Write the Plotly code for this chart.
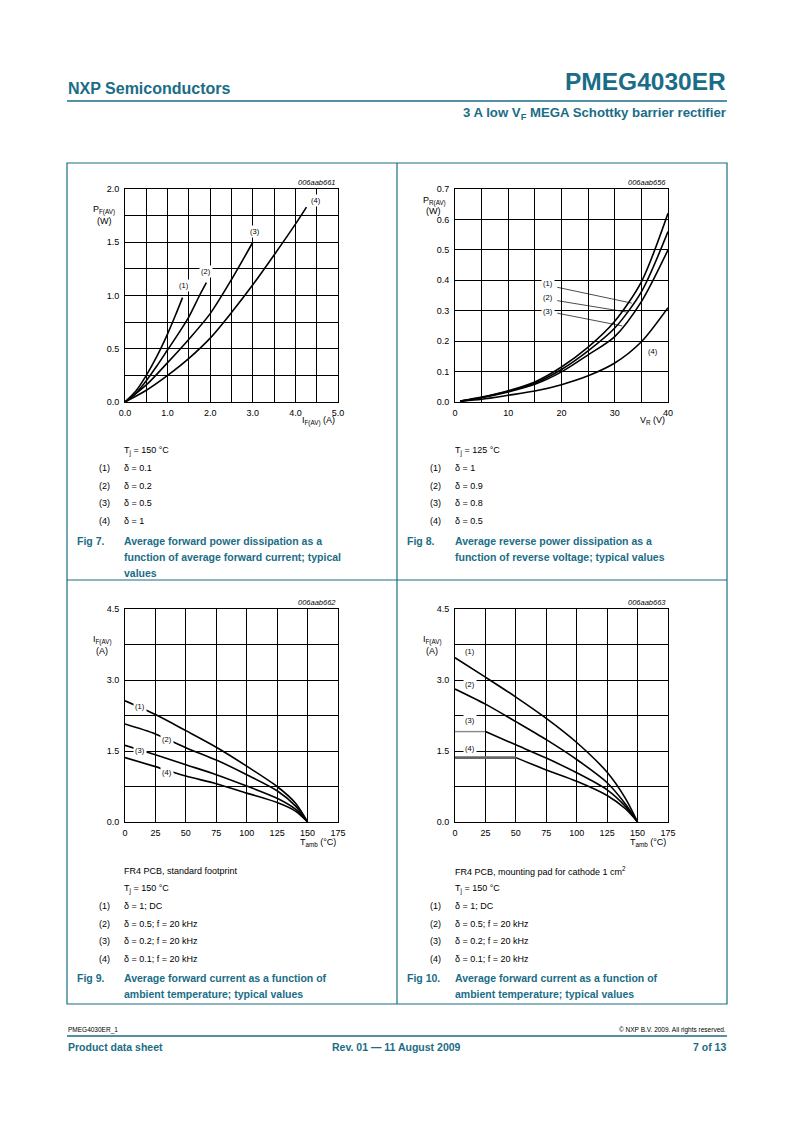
import plotly.graph_objects as go

W, H = 793, 1123
TEAL = "#1a6d86"
FONT = "Liberation Sans, Arial, sans-serif"

# ---------------- Fig 7 data: P_F(AV) vs I_F(AV) ----------------
f7_x1 = [0, 0.25, 0.5, 0.75, 1.0, 1.2, 1.35]
f7_y1 = [0, 0.10, 0.25, 0.43, 0.64, 0.83, 0.98]
f7_x2 = [0, 0.25, 0.5, 0.75, 1.0, 1.25, 1.5, 1.75, 1.91]
f7_y2 = [0, 0.08, 0.20, 0.34, 0.49, 0.64, 0.80, 1.00, 1.12]
f7_x3 = [0, 0.5, 1.0, 1.5, 2.0, 2.5, 3.0]
f7_y3 = [0, 0.16, 0.37, 0.59, 0.83, 1.15, 1.50]
f7_x4 = [0, 0.5, 1.0, 1.5, 2.0, 2.5, 3.0, 3.5, 4.0, 4.26]
f7_y4 = [0, 0.11, 0.25, 0.41, 0.60, 0.84, 1.10, 1.38, 1.67, 1.83]
f7_lab_x = [1.38, 1.91, 3.05, 4.49]
f7_lab_y = [1.09, 1.23, 1.60, 1.89]

# ---------------- Fig 8 data: P_R(AV) vs V_R ----------------
f8_x = [1, 5, 10, 15, 20, 25, 30, 35, 40]
f8_y1 = [0.003, 0.016, 0.037, 0.066, 0.115, 0.180, 0.265, 0.395, 0.62]
f8_y2 = [0.003, 0.015, 0.035, 0.062, 0.107, 0.168, 0.243, 0.362, 0.56]
f8_y3 = [0.003, 0.014, 0.033, 0.058, 0.099, 0.155, 0.215, 0.330, 0.50]
f8_y4 = [0.002, 0.009, 0.022, 0.036, 0.057, 0.086, 0.128, 0.198, 0.31]
f8_lab_x = [17.5, 17.5, 17.5, 37.2]
f8_lab_y = [0.390, 0.342, 0.296, 0.165]
f8_lead_x0 = [19.2, 19.2, 19.2]
f8_lead_y0 = [0.377, 0.333, 0.292]
f8_lead_x1 = [33.2, 32.5, 31.4]
f8_lead_y1 = [0.325, 0.295, 0.250]

# ---------------- Fig 9 data: I_F(AV) vs T_amb (standard footprint) ----------------
f9_x = [0, 25, 50, 75, 100, 125, 140, 150]
f9_y1 = [2.56, 2.27, 1.93, 1.58, 1.18, 0.75, 0.40, 0.0]
f9_y2 = [2.07, 1.86, 1.57, 1.31, 1.00, 0.66, 0.34, 0.0]
f9_y3 = [1.62, 1.42, 1.21, 1.00, 0.76, 0.50, 0.27, 0.0]
f9_y4 = [1.36, 1.17, 0.97, 0.81, 0.61, 0.41, 0.23, 0.0]
f9_lab_x = [12.3, 34.7, 12.3, 34.7]
f9_lab_y = [2.44, 1.74, 1.51, 1.05]

# ---------------- Fig 10 data: I_F(AV) vs T_amb (1 cm2 pad) ----------------
f10_x = [0, 25, 50, 75, 100, 125, 140, 150]
f10_y1 = [3.47, 3.06, 2.64, 2.19, 1.68, 1.05, 0.50, 0.0]
f10_y2 = [2.81, 2.49, 2.12, 1.74, 1.32, 0.83, 0.38, 0.0]
f10_x3_flat = [0, 25]
f10_y3_flat = [1.91, 1.91]
f10_x3 = [25, 50, 75, 100, 125, 140, 150]
f10_y3 = [1.91, 1.63, 1.35, 1.04, 0.68, 0.33, 0.0]
f10_x4_flat = [0, 50]
f10_y4_flat = [1.36, 1.36]
f10_x4 = [50, 75, 100, 125, 140, 150]
f10_y4 = [1.36, 1.10, 0.86, 0.56, 0.28, 0.0]
f10_lab_x = [12.3, 12.3, 12.3, 12.3]
f10_lab_y = [3.60, 2.91, 2.14, 1.56]

curve_labels = ["(1)", "(2)", "(3)", "(4)"]

# tick definitions: (labelled dtick, grid dtick)
f7_x_ticks = (1.0, 0.5)
f7_y_ticks = (0.5, 0.25)
f8_x_ticks = (10, 5)
f8_y_ticks = (0.1, 0.1)
t_x_ticks = (25, 25)
t_y_ticks = (1.5, 0.75)


def X(p):
    return p / W


def Y(p):
    return 1 - p / H


fig = go.Figure()

LW = 1.6


def line(x, y, ax, color="black", width=LW, shape="spline"):
    fig.add_trace(go.Scatter(x=x, y=y, mode="lines", xaxis="x" + ax, yaxis="y" + ax,
                             line=dict(color=color, width=width, shape=shape, smoothing=0.8),
                             showlegend=False, hoverinfo="skip"))


line(f7_x1, f7_y1, "")
line(f7_x2, f7_y2, "")
line(f7_x3, f7_y3, "")
line(f7_x4, f7_y4, "")

for yy in (f8_y1, f8_y2, f8_y3, f8_y4):
    line(f8_x, yy, "2")
for i in range(3):
    line([f8_lead_x0[i], f8_lead_x1[i]], [f8_lead_y0[i], f8_lead_y1[i]], "2", width=0.7, shape="linear")

for yy in (f9_y1, f9_y2, f9_y3, f9_y4):
    line(f9_x, yy, "3")

line(f10_x, f10_y1, "4")
line(f10_x, f10_y2, "4")
line(f10_x3_flat, f10_y3_flat, "4", color="#888888", width=1.4, shape="linear")
line(f10_x3, f10_y3, "4")
line(f10_x4_flat, f10_y4_flat, "4", color="#666666", width=2.6, shape="linear")
line(f10_x4, f10_y4, "4")

axcommon = dict(showline=True, linecolor="black", linewidth=1, mirror=True,
                showgrid=True, gridcolor="black", gridwidth=1, zeroline=False,
                ticks="", tickfont=dict(family=FONT, size=9, color="black"),
                fixedrange=True, automargin=False)

doms = {
    "": ((125, 338), (189, 402)),
    "2": ((455, 668), (189, 402)),
    "3": ((125, 338), (609, 822)),
    "4": ((455, 668), (609, 822)),
}
ax_spec = {
    "": ([0, 5], f7_x_ticks, "%.1f", [0, 2], f7_y_ticks, "%.1f"),
    "2": ([0, 40], f8_x_ticks, "%d", [0, 0.7], f8_y_ticks, "%.1f"),
    "3": ([0, 175], t_x_ticks, "%d", [0, 4.5], t_y_ticks, "%.1f"),
    "4": ([0, 175], t_x_ticks, "%d", [0, 4.5], t_y_ticks, "%.1f"),
}


def tickset(rng, dt, fmt):
    n = int(round((rng[1] - rng[0]) / dt))
    vals = [rng[0] + i * dt for i in range(n + 1)]
    return vals, [fmt % v for v in vals]


lay = {}
for k, ((x0, x1), (y0, y1)) in doms.items():
    xr, xt, xf, yr, yt, yf = ax_spec[k]
    xv, xtxt = tickset(xr, xt[0], xf)
    yv, ytxt = tickset(yr, yt[0], yf)
    lay["xaxis" + k] = dict(axcommon, domain=[X(x0), X(x1)], range=xr, tickvals=xv, ticktext=xtxt,
                            anchor="y" + k, ticklabelstandoff=2,
                            minor=dict(dtick=xt[1], tick0=0, showgrid=True, gridcolor="black",
                                       gridwidth=1, ticks=""))
    lay["yaxis" + k] = dict(axcommon, domain=[Y(y1), Y(y0)], range=yr, tickvals=yv, ticktext=ytxt,
                            anchor="x" + k, ticklabelstandoff=3,
                            minor=dict(dtick=yt[1], tick0=0, showgrid=True, gridcolor="black",
                                       gridwidth=1, ticks=""))

ann = []


def txt(x, y, s, size=9, color="black", xanchor="left", bold=False, italic=False, yanchor="middle"):
    if bold:
        s = "<b>" + s + "</b>"
    if italic:
        s = "<i>" + s + "</i>"
    ann.append(dict(x=X(x), y=Y(y), xref="paper", yref="paper", text=s, showarrow=False,
                    xanchor=xanchor, yanchor=yanchor, font=dict(family=FONT, size=size, color=color)))


def clab(ax, xs, ys):
    for i in range(len(xs)):
        ann.append(dict(x=xs[i], y=ys[i], xref="x" + ax, yref="y" + ax, text=curve_labels[i],
                        showarrow=False, bgcolor="white", borderpad=1,
                        font=dict(family=FONT, size=7.5, color="black")))


clab("", f7_lab_x, f7_lab_y)
clab("2", f8_lab_x, f8_lab_y)
clab("3", f9_lab_x, f9_lab_y)
clab("4", f10_lab_x, f10_lab_y)

# header
txt(66, 89, "NXP Semiconductors", size=16, color=TEAL, bold=True)
txt(728, 82, "PMEG4030ER", size=24.5, color=TEAL, bold=True, xanchor="right")
txt(728, 113, "3 A low V<sub>F</sub> MEGA Schottky barrier rectifier", size=13.2, color=TEAL,
    bold=True, xanchor="right")

# chart ids / axis titles
txt(338, 182, "006aab661", size=7.5, italic=True, xanchor="right")
txt(668, 182, "006aab656", size=7.5, italic=True, xanchor="right")
txt(338, 602, "006aab662", size=7.5, italic=True, xanchor="right")
txt(668, 602, "006aab663", size=7.5, italic=True, xanchor="right")

txt(104, 210, "P<sub>F(AV)</sub>", size=9, xanchor="center")
txt(104, 221, "(W)", size=9, xanchor="center")
txt(337, 421, "I<sub>F(AV)</sub> (A)", size=9, xanchor="right")

txt(434, 201, "P<sub>R(AV)</sub>", size=9, xanchor="center")
txt(433, 211, "(W)", size=9, xanchor="center")
txt(667, 421, "V<sub>R</sub> (V)", size=9, xanchor="right")

for dx in (0, 330):
    txt(102 + dx, 640, "I<sub>F(AV)</sub>", size=9, xanchor="center")
    txt(102 + dx, 651, "(A)", size=9, xanchor="center")
    txt(338 + dx, 842, "T<sub>amb</sub> (°C)", size=9, xanchor="right")


# notes below charts
def notes(x0, y0, cond, items):
    y = y0
    for c in cond:
        txt(x0 + 25, y, c)
        y += 17.5
    for i, s in enumerate(items):
        txt(x0, y, curve_labels[i])
        txt(x0 + 25, y, s)
        y += 17.5


notes(97, 451, ["T<sub>j</sub> = 150 °C"], ["δ = 0.1", "δ = 0.2", "δ = 0.5", "δ = 1"])
notes(428, 451, ["T<sub>j</sub> = 125 °C"], ["δ = 1", "δ = 0.9", "δ = 0.8", "δ = 0.5"])
notes(97, 871, ["FR4 PCB, standard footprint", "T<sub>j</sub> = 150 °C"],
      ["δ = 1; DC", "δ = 0.5; f = 20 kHz", "δ = 0.2; f = 20 kHz", "δ = 0.1; f = 20 kHz"])
notes(428, 871, ["FR4 PCB, mounting pad for cathode 1 cm<sup>2</sup>", "T<sub>j</sub> = 150 °C"],
      ["δ = 1; DC", "δ = 0.5; f = 20 kHz", "δ = 0.2; f = 20 kHz", "δ = 0.1; f = 20 kHz"])


# captions
def caption(xf, xt, y0, fig_label, lines):
    txt(xf, y0, fig_label, size=10.5, color=TEAL, bold=True)
    for i, s in enumerate(lines):
        txt(xt, y0 + 16 * i, s, size=10.5, color=TEAL, bold=True)


caption(75, 122, 541, "Fig 7.", ["Average forward power dissipation as a",
                                 "function of average forward current; typical", "values"])
caption(405, 453, 541, "Fig 8.", ["Average reverse power dissipation as a",
                                  "function of reverse voltage; typical values"])
caption(75, 122, 978, "Fig 9.", ["Average forward current as a function of",
                                 "ambient temperature; typical values"])
caption(405, 453, 978, "Fig 10.", ["Average forward current as a function of",
                                   "ambient temperature; typical values"])

# footer
txt(66, 1030, "PMEG4030ER_1", size=6.5)
txt(728, 1030, "© NXP B.V. 2009. All rights reserved.", size=6.5, xanchor="right")
txt(66, 1047, "Product data sheet", size=10.5, color=TEAL, bold=True)
txt(396, 1047, "Rev. 01 — 11 August 2009", size=10.5, color=TEAL, bold=True, xanchor="center")
txt(728, 1047, "7 of 13", size=10.5, color=TEAL, bold=True, xanchor="right")

shapes = []


def pline(x0, y0, x1, y1, w=1.2):
    shapes.append(dict(type="line", xref="paper", yref="paper", x0=X(x0), y0=Y(y0), x1=X(x1), y1=Y(y1),
                       line=dict(color=TEAL, width=w)))


pline(67, 101, 727, 101, 1.5)
pline(67, 1036, 727, 1036, 1.5)
shapes.append(dict(type="rect", xref="paper", yref="paper", x0=X(67), y0=Y(1004), x1=X(727), y1=Y(163),
                   line=dict(color=TEAL, width=1.2)))
pline(397, 163, 397, 1004)
pline(67, 580, 727, 580)

fig.update_layout(width=W, height=H,
                  margin=dict(l=0, r=0, t=0, b=0, pad=0, autoexpand=False),
                  paper_bgcolor="white", plot_bgcolor="white",
                  annotations=ann, shapes=shapes, showlegend=False, **lay)

fig.write_html("out.html", config={"displayModeBar": False},
               post_script="document.body.style.margin='0px';"
                           "document.documentElement.style.overflow='hidden';")
